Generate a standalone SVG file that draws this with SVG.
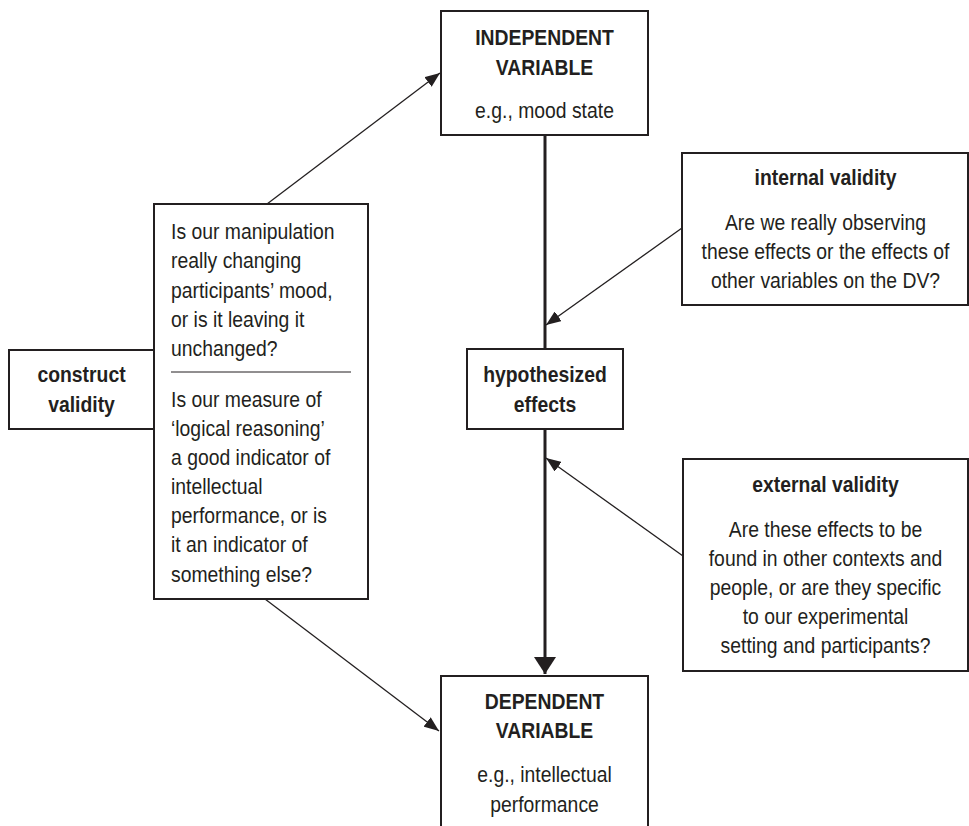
<svg xmlns="http://www.w3.org/2000/svg" width="969" height="826" viewBox="0 0 969 826">
  <style>
    .box { fill: #ffffff; stroke: #231f20; stroke-width: 2; }
    .thin { fill: none; stroke: #231f20; stroke-width: 1.3; }
    .main { fill: none; stroke: #231f20; stroke-width: 3; }
    text { font-family: "Liberation Sans", Arial, sans-serif; font-size: 22px; fill: #231f20; }
    .b { font-weight: bold; }
    .c { text-anchor: middle; }
  </style>
  <defs>
    <marker id="tip" markerUnits="userSpaceOnUse" markerWidth="16" markerHeight="12" refX="15" refY="6" orient="auto">
      <path d="M0,0 L15,6 L0,12 Z" fill="#231f20"/>
    </marker>
    <marker id="bigtip" markerUnits="userSpaceOnUse" markerWidth="18" markerHeight="22" refX="17" refY="11" orient="auto">
      <path d="M0,0 L17,11 L0,22 Z" fill="#231f20"/>
    </marker>
  </defs>

  <!-- connectors -->
  <g id="connectors">
    <line class="main" x1="545" y1="135" x2="545" y2="349"/>
    <line class="main" x1="545" y1="429" x2="545" y2="674" marker-end="url(#bigtip)"/>
    <line class="thin" x1="267" y1="204" x2="440" y2="73" marker-end="url(#tip)"/>
    <line class="thin" x1="265" y1="599" x2="439" y2="731" marker-end="url(#tip)"/>
    <line class="thin" x1="682" y1="228" x2="546" y2="325" marker-end="url(#tip)"/>
    <line class="thin" x1="683" y1="556" x2="546" y2="458" marker-end="url(#tip)"/>
  </g>

  <!-- independent variable -->
  <g id="independent-variable">
    <rect class="box" x="441" y="11" width="207" height="124"/>
    <g transform="translate(544.5 0) scale(0.88 1)">
      <text class="b c" x="0" y="45">INDEPENDENT</text>
      <text class="b c" x="0" y="75">VARIABLE</text>
      <text class="c" x="0" y="118">e.g., mood state</text>
    </g>
  </g>

  <!-- construct validity questions -->
  <g id="construct-questions">
    <rect class="box" x="154" y="204" width="214" height="395"/>
    <line x1="171" y1="372" x2="351" y2="372" stroke="#231f20" stroke-width="1"/>
    <g transform="translate(171 0) scale(0.88 1)">
      <text x="0" y="239">Is our manipulation</text>
      <text x="0" y="268">really changing</text>
      <text x="0" y="298">participants’ mood,</text>
      <text x="0" y="327">or is it leaving it</text>
      <text x="0" y="356">unchanged?</text>
      <text x="0" y="407">Is our measure of</text>
      <text x="0" y="436">‘logical reasoning’</text>
      <text x="0" y="465">a good indicator of</text>
      <text x="0" y="494">intellectual</text>
      <text x="0" y="523">performance, or is</text>
      <text x="0" y="552">it an indicator of</text>
      <text x="0" y="582">something else?</text>
    </g>
  </g>

  <!-- construct validity label -->
  <g id="construct-validity">
    <rect class="box" x="9" y="350" width="145" height="79"/>
    <g transform="translate(81.5 0) scale(0.88 1)">
      <text class="b c" x="0" y="382">construct</text>
      <text class="b c" x="0" y="412">validity</text>
    </g>
  </g>

  <!-- internal validity -->
  <g id="internal-validity">
    <rect class="box" x="682" y="153" width="286" height="152"/>
    <g transform="translate(825.5 0) scale(0.88 1)">
      <text class="b c" x="0" y="185">internal validity</text>
      <text class="c" x="0" y="230">Are we really observing</text>
      <text class="c" x="0" y="259">these effects or the effects of</text>
      <text class="c" x="0" y="288">other variables on the DV?</text>
    </g>
  </g>

  <!-- hypothesized effects -->
  <g id="hypothesized-effects">
    <rect class="box" x="467" y="349" width="156" height="80"/>
    <g transform="translate(545 0) scale(0.88 1)">
      <text class="b c" x="0" y="382">hypothesized</text>
      <text class="b c" x="0" y="412">effects</text>
    </g>
  </g>

  <!-- external validity -->
  <g id="external-validity">
    <rect class="box" x="683" y="459" width="285" height="212"/>
    <g transform="translate(825.5 0) scale(0.88 1)">
      <text class="b c" x="0" y="492">external validity</text>
      <text class="c" x="0" y="537">Are these effects to be</text>
      <text class="c" x="0" y="566">found in other contexts and</text>
      <text class="c" x="0" y="595">people, or are they specific</text>
      <text class="c" x="0" y="624">to our experimental</text>
      <text class="c" x="0" y="653">setting and participants?</text>
    </g>
  </g>

  <!-- dependent variable -->
  <g id="dependent-variable">
    <rect class="box" x="441" y="676" width="207" height="160"/>
    <g transform="translate(544.5 0) scale(0.88 1)">
      <text class="b c" x="0" y="709">DEPENDENT</text>
      <text class="b c" x="0" y="738">VARIABLE</text>
      <text class="c" x="0" y="782">e.g., intellectual</text>
      <text class="c" x="0" y="812">performance</text>
    </g>
  </g>
</svg>
